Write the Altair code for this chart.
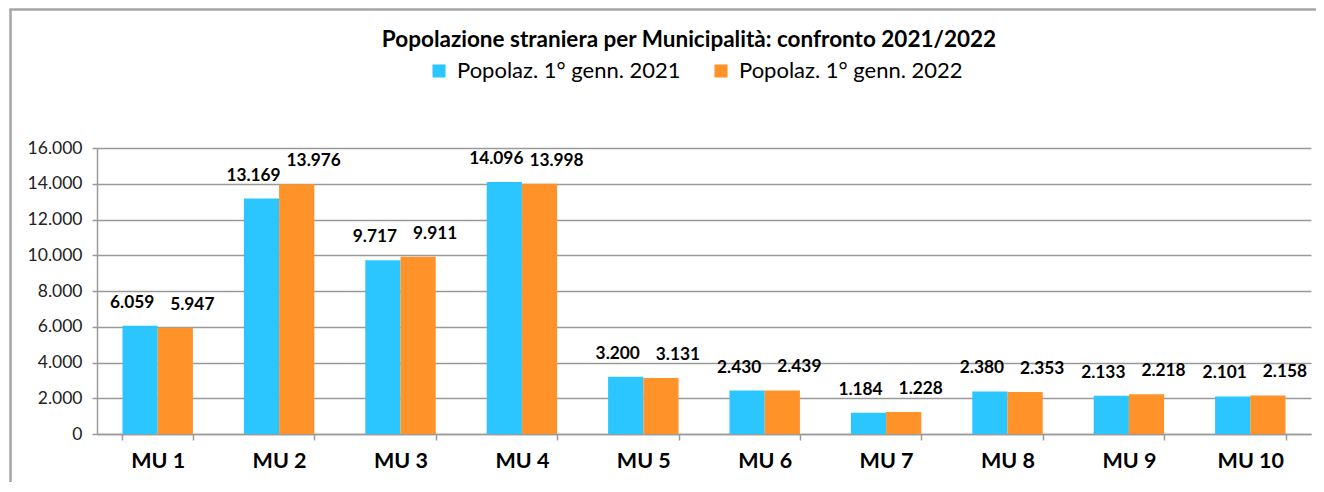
import altair as alt
import pandas as pd

categories = ["MU 1", "MU 2", "MU 3", "MU 4", "MU 5", "MU 6", "MU 7", "MU 8", "MU 9", "MU 10"]
series_names = ["Popolaz. 1° genn. 2021", "Popolaz. 1° genn. 2022"]
pop_2021 = [6059, 13169, 9717, 14096, 3200, 2430, 1184, 2380, 2133, 2101]
pop_2022 = [5947, 13976, 9911, 13998, 3131, 2439, 1228, 2353, 2218, 2158]
y_ticks = [0, 2000, 4000, 6000, 8000, 10000, 12000, 14000, 16000]
colors = ["#2BC6FF", "#FF9228"]
title_text = "Popolazione straniera per Municipalità: confronto 2021/2022"

rows = []
for c, a, b in zip(categories, pop_2021, pop_2022):
    rows.append({"cat": c, "serie": series_names[0], "val": a})
    rows.append({"cat": c, "serie": series_names[1], "val": b})
df = pd.DataFrame(rows)

FONT = "Lato"
W, H = 1214, 286
GRID = "#9a9a9a"

base = alt.Chart(df).transform_calculate(
    lab="replace(format(datum.val, ','), ',', '.')"
)

xscale = alt.Scale(domain=categories, paddingInner=0.42, paddingOuter=0.21)
xaxis = alt.Axis(title=None, labelFont=FONT, labelFontSize=21.5, labelFontWeight="bold",
                 labelColor="#000000", labelPadding=10, tickBand="extent",
                 tickSize=6, tickColor=GRID, tickWidth=1.5,
                 domainColor=GRID, domainWidth=1.5, labelAngle=0)
yscale = alt.Scale(domain=[0, 16000])
yaxis = alt.Axis(title=None, values=y_ticks, labelOverlap=False, labelFont=FONT,
                 labelFontSize=17.5, labelColor="#222222", labelPadding=10, tickSize=5,
                 tickColor=GRID, tickWidth=1.5, domainColor=GRID,
                 domainWidth=1.5, gridColor=GRID, gridWidth=1.5,
                 labelExpr="replace(format(datum.value, ','), ',', '.')")

xenc = alt.X("cat:N", sort=categories, scale=xscale, axis=xaxis)
yenc = alt.Y("val:Q", scale=yscale, axis=yaxis)
xoff = alt.XOffset("serie:N", sort=series_names, scale=alt.Scale(domain=series_names))

bars = base.mark_bar().encode(
    x=xenc,
    xOffset=xoff,
    y=yenc,
    color=alt.Color("serie:N", sort=series_names,
                    scale=alt.Scale(domain=series_names, range=colors),
                    legend=alt.Legend(title=None, orient="none", direction="horizontal",
                                      legendX=331, legendY=-88, symbolType="square",
                                      symbolSize=170, symbolStrokeWidth=0, labelFont=FONT,
                                      labelFontSize=22, labelColor="#000000", labelLimit=400,
                                      columnPadding=29, symbolOffset=0, labelOffset=7)),
)

def label_layer(serie, dx):
    return base.transform_filter(alt.datum.serie == serie).mark_text(
        baseline="bottom", dy=-14, dx=dx, font=FONT, fontSize=17.3,
        fontWeight="bold", color="#000000"
    ).encode(x=xenc, xOffset=xoff, y=yenc, text="lab:N")

labels_a = label_layer(series_names[0], -8)
labels_b = label_layer(series_names[1], 17)

one = pd.DataFrame({"k": [0]})
border_left = alt.Chart(one).mark_rule(
    stroke="#a6a6a6", strokeWidth=2.5, clip=False
).encode(x=alt.value(-86.5), y=alt.value(-139), y2=alt.value(400))
border_top = alt.Chart(one).mark_rule(
    stroke="#a6a6a6", strokeWidth=2.5, clip=False
).encode(x=alt.value(-87.5), x2=alt.value(1300), y=alt.value(-138.5))

title = alt.Chart(one).mark_text(
    text=title_text, font=FONT, fontSize=22.5, fontWeight="bold", color="#000000",
    align="center", baseline="middle"
).encode(x=alt.value(592), y=alt.value(-108))

chart = alt.layer(border_left, border_top, bars, labels_a, labels_b, title).properties(
    width=W, height=H,
    autosize=alt.AutoSizeParams(type="none"),
    padding={"left": 89, "top": 140, "right": 5, "bottom": 48},
).configure_view(stroke=None)

chart.save("out.html", embed_options={"renderer": "svg", "actions": False})
